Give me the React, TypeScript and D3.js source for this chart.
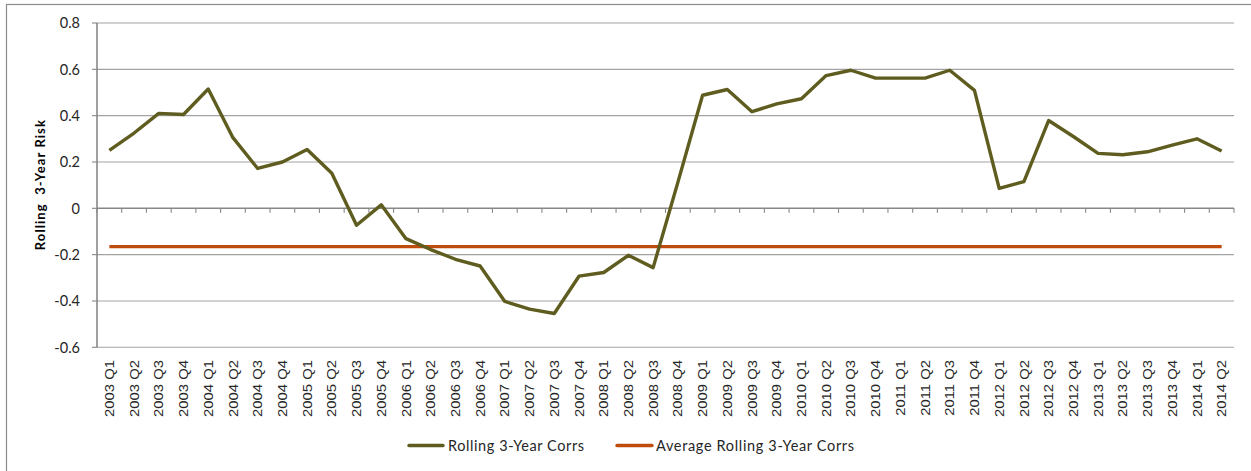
import React from 'react';
import * as d3 from 'd3';

// Quarter labels along the x axis
const quarters: string[] = [
  '2003 Q1', '2003 Q2', '2003 Q3', '2003 Q4',
  '2004 Q1', '2004 Q2', '2004 Q3', '2004 Q4',
  '2005 Q1', '2005 Q2', '2005 Q3', '2005 Q4',
  '2006 Q1', '2006 Q2', '2006 Q3', '2006 Q4',
  '2007 Q1', '2007 Q2', '2007 Q3', '2007 Q4',
  '2008 Q1', '2008 Q2', '2008 Q3', '2008 Q4',
  '2009 Q1', '2009 Q2', '2009 Q3', '2009 Q4',
  '2010 Q1', '2010 Q2', '2010 Q3', '2010 Q4',
  '2011 Q1', '2011 Q2', '2011 Q3', '2011 Q4',
  '2012 Q1', '2012 Q2', '2012 Q3', '2012 Q4',
  '2013 Q1', '2013 Q2', '2013 Q3', '2013 Q4',
  '2014 Q1', '2014 Q2',
];

// Rolling 3-year correlations, one value per quarter
const rollingCorrs: number[] = [
  0.25, 0.325, 0.41, 0.405,
  0.515, 0.305, 0.172, 0.2,
  0.254, 0.151, -0.073, 0.015,
  -0.131, -0.178, -0.22, -0.249,
  -0.402, -0.435, -0.454, -0.293,
  -0.277, -0.203, -0.256, 0.112,
  0.488, 0.513, 0.417, 0.451,
  0.473, 0.573, 0.596, 0.562,
  0.562, 0.562, 0.596, 0.509,
  0.086, 0.115, 0.379, 0.31,
  0.237, 0.231, 0.244, 0.273,
  0.3, 0.247,
];

// Average of the rolling correlations, drawn as a flat line
const averageCorr = -0.165;

const yTicks: number[] = [-0.6, -0.4, -0.2, 0, 0.2, 0.4, 0.6, 0.8];

const seriesNames: string[] = ['Rolling 3-Year Corrs', 'Average Rolling 3-Year Corrs'];
const seriesColors: string[] = ['#5E5C1E', '#BF4B0C'];

const yTitle = 'Rolling  3-Year Risk';

export default function App() {
  const W = 1251;
  const H = 471;
  const plot = { left: 97, right: 1234, top: 23, bottom: 347.3 };

  const x = d3.scaleBand<string>().domain(quarters).range([plot.left, plot.right]).padding(0);
  const y = d3.scaleLinear().domain([-0.6, 0.8]).range([plot.bottom, plot.top]);
  const cx = (q: string) => (x(q) as number) + x.bandwidth() / 2;

  const corrPath = d3
    .line<number>()
    .x((_, i) => cx(quarters[i]))
    .y((d) => y(d))(rollingCorrs) as string;

  const avgPath = d3
    .line<string>()
    .x((q) => cx(q))
    .y(() => y(averageCorr))([quarters[0], quarters[quarters.length - 1]]) as string;

  const y0 = y(0);
  const boundaries = quarters.map((q) => x(q) as number).concat([plot.right]);

  const labelFont = 'Lato, "Open Sans", sans-serif';
  const tickFont = '"Liberation Sans", Arial, sans-serif';

  const legendY = 445.5;
  const legend = [
    { x1: 409, x2: 443, tx: 448, width: 136 },
    { x1: 617, x2: 652, tx: 656, width: 198 },
  ];

  return (
    <svg
      width={W}
      height={H}
      viewBox={`0 0 ${W} ${H}`}
      style={{ position: 'absolute', left: 0, top: 0, background: '#fff' }}
    >
      {/* chart frame */}
      <rect x={6.5} y={4.5} width={W + 20} height={H + 20} fill="#fff" stroke="#8C8C8C" strokeWidth={1.2} />

      {/* horizontal gridlines */}
      {yTicks
        .filter((t) => t !== 0)
        .map((t) => (
          <line key={`g${t}`} x1={plot.left} x2={plot.right} y1={y(t)} y2={y(t)} stroke="#A3A3A3" strokeWidth={1.1} />
        ))}

      {/* y axis */}
      <line x1={plot.left} x2={plot.left} y1={plot.top} y2={plot.bottom} stroke="#878787" strokeWidth={1.6} />
      {yTicks.map((t) => (
        <g key={`yt${t}`}>
          <line x1={plot.left - 5} x2={plot.left} y1={y(t)} y2={y(t)} stroke="#878787" strokeWidth={1.1} />
          <text
            x={80}
            y={y(t)}
            dy="0.36em"
            textAnchor="end"
            fontFamily={labelFont}
            fontSize={14.5}
            fill="#262626"
          >
            {String(t)}
          </text>
        </g>
      ))}

      {/* x axis along zero */}
      <line x1={plot.left} x2={plot.right} y1={y0} y2={y0} stroke="#878787" strokeWidth={1.6} />
      {boundaries.map((bx, i) => (
        <line key={`xt${i}`} x1={bx} x2={bx} y1={y0} y2={y0 + 4.5} stroke="#878787" strokeWidth={1.1} />
      ))}

      {/* category labels, stretched along their reading direction */}
      {quarters.map((q) => (
        <text
          key={`xl${q}`}
          transform={`translate(${cx(q) + 4.6},360) rotate(-90) scale(1.16,1)`}
          textAnchor="end"
          fontFamily={tickFont}
          fontSize={12.8}
          fill="#262626"
        >
          {q}
        </text>
      ))}

      {/* y axis title */}
      <text
        transform={`translate(44.5,${(plot.top + plot.bottom) / 2}) rotate(-90)`}
        textAnchor="middle"
        fontFamily={labelFont}
        fontWeight="bold"
        fontSize={13}
        fill="#000"
        style={{ whiteSpace: 'pre' }}
        textLength={130}
        lengthAdjust="spacing"
      >
        {yTitle}
      </text>

      {/* series */}
      <path d={avgPath} fill="none" stroke={seriesColors[1]} strokeWidth={3.3} />
      <path d={corrPath} fill="none" stroke={seriesColors[0]} strokeWidth={3.4} strokeLinejoin="round" />

      {/* legend */}
      {seriesNames.map((name, i) => (
        <g key={name}>
          <line
            x1={legend[i].x1}
            x2={legend[i].x2}
            y1={legendY}
            y2={legendY}
            stroke={seriesColors[i]}
            strokeWidth={3.4}
            strokeLinecap="round"
          />
          <text
            x={legend[i].tx}
            y={legendY}
            dy="0.36em"
            fontFamily={labelFont}
            fontSize={14.5}
            fill="#262626"
            textLength={legend[i].width}
            lengthAdjust="spacing"
          >
            {name}
          </text>
        </g>
      ))}
    </svg>
  );
}
